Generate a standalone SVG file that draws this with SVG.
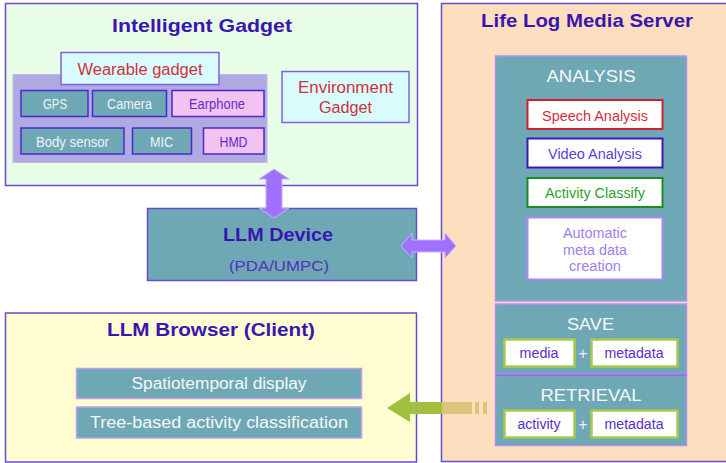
<svg xmlns="http://www.w3.org/2000/svg" width="726" height="463" viewBox="0 0 726 463">
<style>
text{font-family:"Liberation Sans","DejaVu Sans",sans-serif;text-anchor:middle}
.title{font-weight:bold;font-size:19px;fill:#3a16b0}
.cell{fill:#6fa8b5;stroke:#4a2ad0;stroke-width:1.5}
.pink{fill:#f2c2f0;stroke:#4a2ad0;stroke-width:1.5}
.wt{fill:#eef4f4;font-size:14px}
.pt{fill:#5a2ec8;font-size:14px}
.red{fill:#d03040}
.sub{fill:#fff;stroke-width:2}
.gbox{fill:#fff;stroke:#a8c850;stroke-width:2.5}
.arrow{fill:#a070ff;stroke:#c8b0ff;stroke-width:1}
</style>

<g id="intelligent-gadget">
<rect x="5.5" y="3.5" width="412" height="182" fill="#e8fde6" stroke="#6a4ad0" stroke-width="1.5"/>
<text class="title" x="202" y="32" textLength="180" lengthAdjust="spacingAndGlyphs">Intelligent Gadget</text>
</g>

<g id="wearable-gadget">
<rect x="13" y="74.5" width="254" height="88" fill="#b0a9e2" stroke="#c0b8ee" stroke-width="1"/>
<rect x="61" y="52.5" width="158" height="32" fill="#d8fcfc" stroke="#8060e0" stroke-width="1.5"/>
<text class="red" x="140" y="75" font-size="16" textLength="125" lengthAdjust="spacingAndGlyphs">Wearable gadget</text>
</g>
<g id="gps"><rect class="cell" x="21" y="90.5" width="67" height="26"/><text class="wt" x="55" y="109" textLength="24" lengthAdjust="spacingAndGlyphs">GPS</text></g>
<g id="camera"><rect class="cell" x="92.5" y="90.5" width="74" height="26"/><text class="wt" x="129.5" y="109" textLength="45" lengthAdjust="spacingAndGlyphs">Camera</text></g>
<g id="earphone"><rect class="pink" x="172" y="90.5" width="92" height="26"/><text class="pt" x="217" y="109" textLength="56" lengthAdjust="spacingAndGlyphs">Earphone</text></g>
<g id="body-sensor"><rect class="cell" x="21" y="128" width="103" height="26"/><text class="wt" x="72.5" y="147" textLength="73" lengthAdjust="spacingAndGlyphs">Body sensor</text></g>
<g id="mic"><rect class="cell" x="132.5" y="128" width="59" height="26"/><text class="wt" x="161.5" y="147" textLength="23" lengthAdjust="spacingAndGlyphs">MIC</text></g>
<g id="hmd"><rect class="pink" x="203.5" y="128" width="60.5" height="26"/><text class="pt" x="233.5" y="147" textLength="28" lengthAdjust="spacingAndGlyphs">HMD</text></g>

<g id="environment-gadget">
<rect x="282" y="71.5" width="127" height="51" fill="#d8fcfc" stroke="#8060e0" stroke-width="1.5"/>
<text class="red" x="345.5" y="93" font-size="16" textLength="95" lengthAdjust="spacingAndGlyphs">Environment</text>
<text class="red" x="345.5" y="113" font-size="16" textLength="53" lengthAdjust="spacingAndGlyphs">Gadget</text>
</g>

<g id="llm-device">
<rect x="147.5" y="208.5" width="269" height="72" fill="#6fa8b5" stroke="#6a4ad0" stroke-width="1.5"/>
<text class="title" x="278" y="241" textLength="110" lengthAdjust="spacingAndGlyphs">LLM Device</text>
<text x="279" y="271" font-size="14" fill="#5030c0" textLength="100" lengthAdjust="spacingAndGlyphs">(PDA/UMPC)</text>
</g>

<g id="llm-browser">
<rect x="5.5" y="313" width="411" height="149" fill="#fefdd2" stroke="#6a4ad0" stroke-width="1.5"/>
<text class="title" x="211" y="336" textLength="208" lengthAdjust="spacingAndGlyphs">LLM Browser (Client)</text>
</g>
<g id="spatiotemporal-display">
<rect x="76.5" y="368.5" width="285" height="30" fill="#6fa8b5" stroke="#c0a0f0" stroke-width="1.5"/>
<text x="219" y="389" font-size="16" fill="#f4f8f8" textLength="175" lengthAdjust="spacingAndGlyphs">Spatiotemporal display</text>
</g>
<g id="tree-based-classification">
<rect x="76.5" y="407" width="285" height="31" fill="#6fa8b5" stroke="#c0a0f0" stroke-width="1.5"/>
<text x="219" y="428" font-size="16" fill="#f4f8f8" textLength="258" lengthAdjust="spacingAndGlyphs">Tree-based activity classification</text>
</g>

<g id="life-log-media-server">
<rect x="441.5" y="3.5" width="290" height="458" fill="#fddfc0" stroke="#6a4ad0" stroke-width="1.5"/>
<text class="title" x="587" y="27" textLength="212" lengthAdjust="spacingAndGlyphs">Life Log Media Server</text>
</g>

<g id="analysis">
<rect x="495.5" y="56" width="191" height="245" fill="#6fa8b5" stroke="#b090f0" stroke-width="1.5"/>
<text x="591" y="82" font-size="17" fill="#f4f8f8" textLength="89" lengthAdjust="spacingAndGlyphs">ANALYSIS</text>
</g>
<g id="speech-analysis">
<rect class="sub" x="527.5" y="100" width="135" height="29" stroke="#d02030"/>
<text x="595" y="121" font-size="14" fill="#d03040" textLength="106" lengthAdjust="spacingAndGlyphs">Speech Analysis</text>
</g>
<g id="video-analysis">
<rect class="sub" x="527.5" y="138.5" width="135" height="29" stroke="#3a18c0"/>
<text x="595" y="159" font-size="14" fill="#6040d0" textLength="94" lengthAdjust="spacingAndGlyphs">Video Analysis</text>
</g>
<g id="activity-classify">
<rect class="sub" x="527.5" y="178" width="135" height="29" stroke="#208a20"/>
<text x="595" y="198" font-size="14" fill="#30a030" textLength="100" lengthAdjust="spacingAndGlyphs">Activity Classify</text>
</g>
<g id="automatic-meta-data">
<rect class="sub" x="527.5" y="217.5" width="135" height="62" stroke="#a888f4"/>
<text x="595" y="238" font-size="14" fill="#a080f0" textLength="64" lengthAdjust="spacingAndGlyphs">Automatic</text>
<text x="595" y="255" font-size="14" fill="#a080f0" textLength="64" lengthAdjust="spacingAndGlyphs">meta data</text>
<text x="595" y="271" font-size="14" fill="#a080f0" textLength="52" lengthAdjust="spacingAndGlyphs">creation</text>
</g>

<g id="save">
<rect x="495.5" y="304" width="191" height="70" fill="#6fa8b5" stroke="#b090f0" stroke-width="1.5"/>
<text x="590.5" y="330" font-size="17" fill="#f4f8f8" textLength="47" lengthAdjust="spacingAndGlyphs">SAVE</text>
<rect class="gbox" x="504.5" y="339.5" width="70" height="27"/>
<text class="pt" x="539" y="358" textLength="39" lengthAdjust="spacingAndGlyphs">media</text>
<text x="583" y="359" font-size="16" fill="#e8f0f0">+</text>
<rect class="gbox" x="591.5" y="339.5" width="86" height="27"/>
<text class="pt" x="634" y="358" textLength="59" lengthAdjust="spacingAndGlyphs">metadata</text>
</g>

<g id="retrieval">
<rect x="495.5" y="375.5" width="191" height="70" fill="#6fa8b5" stroke="#b090f0" stroke-width="1.5"/>
<line x1="495.5" y1="375" x2="686.5" y2="375" stroke="#9a6cf8" stroke-width="2"/>
<text x="591" y="401" font-size="17" fill="#f4f8f8" textLength="101" lengthAdjust="spacingAndGlyphs">RETRIEVAL</text>
<rect class="gbox" x="504.5" y="410.5" width="70" height="27"/>
<text class="pt" x="539" y="429" textLength="43" lengthAdjust="spacingAndGlyphs">activity</text>
<text x="583" y="430" font-size="16" fill="#e8f0f0">+</text>
<rect class="gbox" x="591.5" y="410.5" width="86" height="27"/>
<text class="pt" x="634" y="429" textLength="59" lengthAdjust="spacingAndGlyphs">metadata</text>
</g>

<g id="connectors">
<polygon class="arrow" points="274,169 289,179 282,179 282,208 289,208 274,218 259,208 266,208 266,179 259,179"/>
<polygon class="arrow" points="401,246 412,233 412,240 445,240 445,233 456,246 445,258 445,252 412,252 412,258"/>
<polygon points="387,408 410,393 410,402 442,402 442,414 410,414 410,422" fill="#a2c040"/>
<rect x="442" y="402" width="30" height="12" fill="#dcc47c"/>
<rect x="475" y="402" width="4" height="12" fill="#dcc47c"/>
<rect x="483" y="402" width="4" height="12" fill="#dcc47c"/>
</g>
</svg>
